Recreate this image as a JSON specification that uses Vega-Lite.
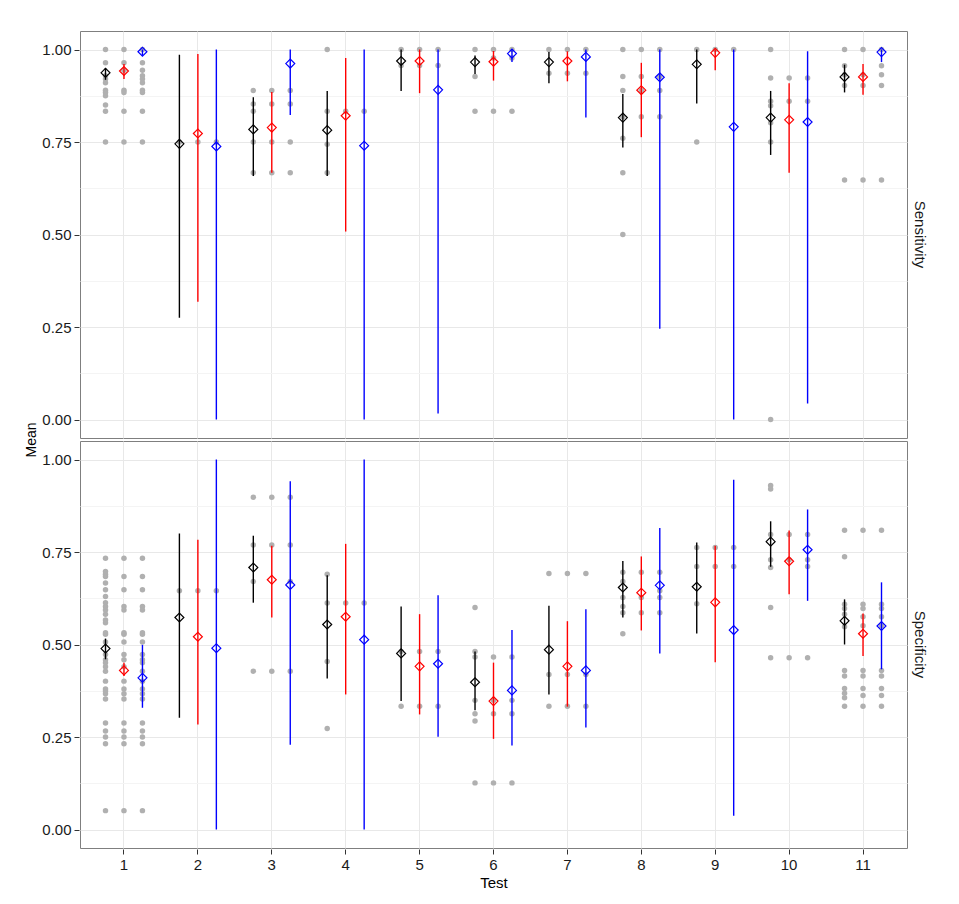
{
"$schema": "https://vega.github.io/schema/vega-lite/v6.json",
"padding": {"left": 24, "top": 30, "right": 5, "bottom": 5},
"background": "white",
"datasets": {
"pts": [
{"p":"Sensitivity","t":1,"s":"s1","v":1},{"p":"Sensitivity","t":1,"s":"s1","v":0.964},{"p":"Sensitivity","t":1,"s":"s1","v":0.929},{"p":"Sensitivity","t":1,"s":"s1","v":0.92},{"p":"Sensitivity","t":1,"s":"s1","v":0.91},{"p":"Sensitivity","t":1,"s":"s1","v":0.89},{"p":"Sensitivity","t":1,"s":"s1","v":0.884},{"p":"Sensitivity","t":1,"s":"s1","v":0.875},{"p":"Sensitivity","t":1,"s":"s1","v":0.85},{"p":"Sensitivity","t":1,"s":"s1","v":0.833},{"p":"Sensitivity","t":1,"s":"s1","v":0.75},
{"p":"Sensitivity","t":1,"s":"s2","v":1},{"p":"Sensitivity","t":1,"s":"s2","v":0.964},{"p":"Sensitivity","t":1,"s":"s2","v":0.944},{"p":"Sensitivity","t":1,"s":"s2","v":0.89},{"p":"Sensitivity","t":1,"s":"s2","v":0.884},{"p":"Sensitivity","t":1,"s":"s2","v":0.833},{"p":"Sensitivity","t":1,"s":"s2","v":0.75},
{"p":"Sensitivity","t":1,"s":"s3","v":1},{"p":"Sensitivity","t":1,"s":"s3","v":0.964},{"p":"Sensitivity","t":1,"s":"s3","v":0.944},{"p":"Sensitivity","t":1,"s":"s3","v":0.929},{"p":"Sensitivity","t":1,"s":"s3","v":0.92},{"p":"Sensitivity","t":1,"s":"s3","v":0.91},{"p":"Sensitivity","t":1,"s":"s3","v":0.89},{"p":"Sensitivity","t":1,"s":"s3","v":0.884},{"p":"Sensitivity","t":1,"s":"s3","v":0.833},{"p":"Sensitivity","t":1,"s":"s3","v":0.75},
{"p":"Sensitivity","t":2,"s":"s1","v":0.75},{"p":"Sensitivity","t":2,"s":"s2","v":0.75},{"p":"Sensitivity","t":2,"s":"s3","v":0.75},
{"p":"Sensitivity","t":3,"s":"s1","v":0.889},{"p":"Sensitivity","t":3,"s":"s1","v":0.853},{"p":"Sensitivity","t":3,"s":"s1","v":0.833},{"p":"Sensitivity","t":3,"s":"s1","v":0.75},{"p":"Sensitivity","t":3,"s":"s1","v":0.667},
{"p":"Sensitivity","t":3,"s":"s2","v":0.889},{"p":"Sensitivity","t":3,"s":"s2","v":0.853},{"p":"Sensitivity","t":3,"s":"s2","v":0.75},{"p":"Sensitivity","t":3,"s":"s2","v":0.667},
{"p":"Sensitivity","t":3,"s":"s3","v":0.889},{"p":"Sensitivity","t":3,"s":"s3","v":0.853},{"p":"Sensitivity","t":3,"s":"s3","v":0.75},{"p":"Sensitivity","t":3,"s":"s3","v":0.667},
{"p":"Sensitivity","t":4,"s":"s1","v":1},{"p":"Sensitivity","t":4,"s":"s1","v":0.833},{"p":"Sensitivity","t":4,"s":"s1","v":0.744},{"p":"Sensitivity","t":4,"s":"s1","v":0.667},
{"p":"Sensitivity","t":4,"s":"s2","v":0.833},{"p":"Sensitivity","t":4,"s":"s3","v":0.833},
{"p":"Sensitivity","t":5,"s":"s1","v":1},{"p":"Sensitivity","t":5,"s":"s1","v":0.957},{"p":"Sensitivity","t":5,"s":"s2","v":1},{"p":"Sensitivity","t":5,"s":"s2","v":0.957},{"p":"Sensitivity","t":5,"s":"s3","v":1},{"p":"Sensitivity","t":5,"s":"s3","v":0.957},
{"p":"Sensitivity","t":6,"s":"s1","v":1},{"p":"Sensitivity","t":6,"s":"s1","v":0.927},{"p":"Sensitivity","t":6,"s":"s1","v":0.833},
{"p":"Sensitivity","t":6,"s":"s2","v":1},{"p":"Sensitivity","t":6,"s":"s2","v":0.977},{"p":"Sensitivity","t":6,"s":"s2","v":0.833},
{"p":"Sensitivity","t":6,"s":"s3","v":1},{"p":"Sensitivity","t":6,"s":"s3","v":0.977},{"p":"Sensitivity","t":6,"s":"s3","v":0.833},
{"p":"Sensitivity","t":7,"s":"s1","v":1},{"p":"Sensitivity","t":7,"s":"s1","v":0.936},{"p":"Sensitivity","t":7,"s":"s2","v":1},{"p":"Sensitivity","t":7,"s":"s2","v":0.936},{"p":"Sensitivity","t":7,"s":"s3","v":1},{"p":"Sensitivity","t":7,"s":"s3","v":0.936},
{"p":"Sensitivity","t":8,"s":"s1","v":1},{"p":"Sensitivity","t":8,"s":"s1","v":0.927},{"p":"Sensitivity","t":8,"s":"s1","v":0.889},{"p":"Sensitivity","t":8,"s":"s1","v":0.818},{"p":"Sensitivity","t":8,"s":"s1","v":0.76},{"p":"Sensitivity","t":8,"s":"s1","v":0.667},{"p":"Sensitivity","t":8,"s":"s1","v":0.5},
{"p":"Sensitivity","t":8,"s":"s2","v":1},{"p":"Sensitivity","t":8,"s":"s2","v":0.927},{"p":"Sensitivity","t":8,"s":"s2","v":0.889},{"p":"Sensitivity","t":8,"s":"s2","v":0.818},
{"p":"Sensitivity","t":8,"s":"s3","v":1},{"p":"Sensitivity","t":8,"s":"s3","v":0.927},{"p":"Sensitivity","t":8,"s":"s3","v":0.889},{"p":"Sensitivity","t":8,"s":"s3","v":0.818},
{"p":"Sensitivity","t":9,"s":"s1","v":1},{"p":"Sensitivity","t":9,"s":"s1","v":0.75},{"p":"Sensitivity","t":9,"s":"s2","v":1},{"p":"Sensitivity","t":9,"s":"s3","v":1},
{"p":"Sensitivity","t":10,"s":"s1","v":1},{"p":"Sensitivity","t":10,"s":"s1","v":0.923},{"p":"Sensitivity","t":10,"s":"s1","v":0.86},{"p":"Sensitivity","t":10,"s":"s1","v":0.848},{"p":"Sensitivity","t":10,"s":"s1","v":0.802},{"p":"Sensitivity","t":10,"s":"s1","v":0.75},{"p":"Sensitivity","t":10,"s":"s1","v":0},
{"p":"Sensitivity","t":10,"s":"s2","v":0.923},{"p":"Sensitivity","t":10,"s":"s2","v":0.86},{"p":"Sensitivity","t":10,"s":"s3","v":0.923},{"p":"Sensitivity","t":10,"s":"s3","v":0.86},
{"p":"Sensitivity","t":11,"s":"s1","v":1},{"p":"Sensitivity","t":11,"s":"s1","v":0.956},{"p":"Sensitivity","t":11,"s":"s1","v":0.932},{"p":"Sensitivity","t":11,"s":"s1","v":0.903},{"p":"Sensitivity","t":11,"s":"s1","v":0.647},
{"p":"Sensitivity","t":11,"s":"s2","v":1},{"p":"Sensitivity","t":11,"s":"s2","v":0.932},{"p":"Sensitivity","t":11,"s":"s2","v":0.903},{"p":"Sensitivity","t":11,"s":"s2","v":0.647},
{"p":"Sensitivity","t":11,"s":"s3","v":1},{"p":"Sensitivity","t":11,"s":"s3","v":0.956},{"p":"Sensitivity","t":11,"s":"s3","v":0.932},{"p":"Sensitivity","t":11,"s":"s3","v":0.903},{"p":"Sensitivity","t":11,"s":"s3","v":0.647},

{"p":"Specificity","t":1,"s":"s1","v":0.733},{"p":"Specificity","t":1,"s":"s1","v":0.697},{"p":"Specificity","t":1,"s":"s1","v":0.69},{"p":"Specificity","t":1,"s":"s1","v":0.684},{"p":"Specificity","t":1,"s":"s1","v":0.666},{"p":"Specificity","t":1,"s":"s1","v":0.648},{"p":"Specificity","t":1,"s":"s1","v":0.63},{"p":"Specificity","t":1,"s":"s1","v":0.613},{"p":"Specificity","t":1,"s":"s1","v":0.603},{"p":"Specificity","t":1,"s":"s1","v":0.593},{"p":"Specificity","t":1,"s":"s1","v":0.582},{"p":"Specificity","t":1,"s":"s1","v":0.566},{"p":"Specificity","t":1,"s":"s1","v":0.559},{"p":"Specificity","t":1,"s":"s1","v":0.532},{"p":"Specificity","t":1,"s":"s1","v":0.528},{"p":"Specificity","t":1,"s":"s1","v":0.507},{"p":"Specificity","t":1,"s":"s1","v":0.473},{"p":"Specificity","t":1,"s":"s1","v":0.459},{"p":"Specificity","t":1,"s":"s1","v":0.451},{"p":"Specificity","t":1,"s":"s1","v":0.44},{"p":"Specificity","t":1,"s":"s1","v":0.428},{"p":"Specificity","t":1,"s":"s1","v":0.401},{"p":"Specificity","t":1,"s":"s1","v":0.38},{"p":"Specificity","t":1,"s":"s1","v":0.374},{"p":"Specificity","t":1,"s":"s1","v":0.367},{"p":"Specificity","t":1,"s":"s1","v":0.353},{"p":"Specificity","t":1,"s":"s1","v":0.288},{"p":"Specificity","t":1,"s":"s1","v":0.266},{"p":"Specificity","t":1,"s":"s1","v":0.25},{"p":"Specificity","t":1,"s":"s1","v":0.232},{"p":"Specificity","t":1,"s":"s1","v":0.051},
{"p":"Specificity","t":1,"s":"s2","v":0.733},{"p":"Specificity","t":1,"s":"s2","v":0.684},{"p":"Specificity","t":1,"s":"s2","v":0.648},{"p":"Specificity","t":1,"s":"s2","v":0.603},{"p":"Specificity","t":1,"s":"s2","v":0.593},{"p":"Specificity","t":1,"s":"s2","v":0.532},{"p":"Specificity","t":1,"s":"s2","v":0.528},{"p":"Specificity","t":1,"s":"s2","v":0.507},{"p":"Specificity","t":1,"s":"s2","v":0.473},{"p":"Specificity","t":1,"s":"s2","v":0.459},{"p":"Specificity","t":1,"s":"s2","v":0.44},{"p":"Specificity","t":1,"s":"s2","v":0.401},{"p":"Specificity","t":1,"s":"s2","v":0.38},{"p":"Specificity","t":1,"s":"s2","v":0.367},{"p":"Specificity","t":1,"s":"s2","v":0.353},{"p":"Specificity","t":1,"s":"s2","v":0.288},{"p":"Specificity","t":1,"s":"s2","v":0.266},{"p":"Specificity","t":1,"s":"s2","v":0.25},{"p":"Specificity","t":1,"s":"s2","v":0.232},{"p":"Specificity","t":1,"s":"s2","v":0.051},
{"p":"Specificity","t":1,"s":"s3","v":0.733},{"p":"Specificity","t":1,"s":"s3","v":0.684},{"p":"Specificity","t":1,"s":"s3","v":0.648},{"p":"Specificity","t":1,"s":"s3","v":0.603},{"p":"Specificity","t":1,"s":"s3","v":0.593},{"p":"Specificity","t":1,"s":"s3","v":0.532},{"p":"Specificity","t":1,"s":"s3","v":0.528},{"p":"Specificity","t":1,"s":"s3","v":0.507},{"p":"Specificity","t":1,"s":"s3","v":0.473},{"p":"Specificity","t":1,"s":"s3","v":0.459},{"p":"Specificity","t":1,"s":"s3","v":0.451},{"p":"Specificity","t":1,"s":"s3","v":0.428},{"p":"Specificity","t":1,"s":"s3","v":0.401},{"p":"Specificity","t":1,"s":"s3","v":0.38},{"p":"Specificity","t":1,"s":"s3","v":0.367},{"p":"Specificity","t":1,"s":"s3","v":0.353},{"p":"Specificity","t":1,"s":"s3","v":0.288},{"p":"Specificity","t":1,"s":"s3","v":0.266},{"p":"Specificity","t":1,"s":"s3","v":0.25},{"p":"Specificity","t":1,"s":"s3","v":0.232},{"p":"Specificity","t":1,"s":"s3","v":0.051},
{"p":"Specificity","t":2,"s":"s1","v":0.645},{"p":"Specificity","t":2,"s":"s2","v":0.645},{"p":"Specificity","t":2,"s":"s3","v":0.645},
{"p":"Specificity","t":3,"s":"s1","v":0.898},{"p":"Specificity","t":3,"s":"s1","v":0.769},{"p":"Specificity","t":3,"s":"s1","v":0.67},{"p":"Specificity","t":3,"s":"s1","v":0.428},
{"p":"Specificity","t":3,"s":"s2","v":0.898},{"p":"Specificity","t":3,"s":"s2","v":0.769},{"p":"Specificity","t":3,"s":"s2","v":0.428},
{"p":"Specificity","t":3,"s":"s3","v":0.898},{"p":"Specificity","t":3,"s":"s3","v":0.769},{"p":"Specificity","t":3,"s":"s3","v":0.67},{"p":"Specificity","t":3,"s":"s3","v":0.428},
{"p":"Specificity","t":4,"s":"s1","v":0.69},{"p":"Specificity","t":4,"s":"s1","v":0.612},{"p":"Specificity","t":4,"s":"s1","v":0.454},{"p":"Specificity","t":4,"s":"s1","v":0.273},
{"p":"Specificity","t":4,"s":"s2","v":0.612},{"p":"Specificity","t":4,"s":"s3","v":0.612},
{"p":"Specificity","t":5,"s":"s1","v":0.481},{"p":"Specificity","t":5,"s":"s1","v":0.333},{"p":"Specificity","t":5,"s":"s2","v":0.481},{"p":"Specificity","t":5,"s":"s2","v":0.333},{"p":"Specificity","t":5,"s":"s3","v":0.481},{"p":"Specificity","t":5,"s":"s3","v":0.333},
{"p":"Specificity","t":6,"s":"s1","v":0.6},{"p":"Specificity","t":6,"s":"s1","v":0.481},{"p":"Specificity","t":6,"s":"s1","v":0.466},{"p":"Specificity","t":6,"s":"s1","v":0.349},{"p":"Specificity","t":6,"s":"s1","v":0.313},{"p":"Specificity","t":6,"s":"s1","v":0.293},{"p":"Specificity","t":6,"s":"s1","v":0.126},
{"p":"Specificity","t":6,"s":"s2","v":0.466},{"p":"Specificity","t":6,"s":"s2","v":0.349},{"p":"Specificity","t":6,"s":"s2","v":0.313},{"p":"Specificity","t":6,"s":"s2","v":0.126},
{"p":"Specificity","t":6,"s":"s3","v":0.466},{"p":"Specificity","t":6,"s":"s3","v":0.349},{"p":"Specificity","t":6,"s":"s3","v":0.313},{"p":"Specificity","t":6,"s":"s3","v":0.126},
{"p":"Specificity","t":7,"s":"s1","v":0.692},{"p":"Specificity","t":7,"s":"s1","v":0.419},{"p":"Specificity","t":7,"s":"s1","v":0.333},
{"p":"Specificity","t":7,"s":"s2","v":0.692},{"p":"Specificity","t":7,"s":"s2","v":0.419},{"p":"Specificity","t":7,"s":"s2","v":0.333},
{"p":"Specificity","t":7,"s":"s3","v":0.692},{"p":"Specificity","t":7,"s":"s3","v":0.419},{"p":"Specificity","t":7,"s":"s3","v":0.333},
{"p":"Specificity","t":8,"s":"s1","v":0.695},{"p":"Specificity","t":8,"s":"s1","v":0.67},{"p":"Specificity","t":8,"s":"s1","v":0.627},{"p":"Specificity","t":8,"s":"s1","v":0.603},{"p":"Specificity","t":8,"s":"s1","v":0.586},{"p":"Specificity","t":8,"s":"s1","v":0.529},
{"p":"Specificity","t":8,"s":"s2","v":0.695},{"p":"Specificity","t":8,"s":"s2","v":0.627},{"p":"Specificity","t":8,"s":"s2","v":0.586},
{"p":"Specificity","t":8,"s":"s3","v":0.695},{"p":"Specificity","t":8,"s":"s3","v":0.645},{"p":"Specificity","t":8,"s":"s3","v":0.627},{"p":"Specificity","t":8,"s":"s3","v":0.586},
{"p":"Specificity","t":9,"s":"s1","v":0.762},{"p":"Specificity","t":9,"s":"s1","v":0.711},{"p":"Specificity","t":9,"s":"s1","v":0.61},
{"p":"Specificity","t":9,"s":"s2","v":0.762},{"p":"Specificity","t":9,"s":"s2","v":0.711},{"p":"Specificity","t":9,"s":"s3","v":0.762},{"p":"Specificity","t":9,"s":"s3","v":0.711},
{"p":"Specificity","t":10,"s":"s1","v":0.93},{"p":"Specificity","t":10,"s":"s1","v":0.92},{"p":"Specificity","t":10,"s":"s1","v":0.797},{"p":"Specificity","t":10,"s":"s1","v":0.729},{"p":"Specificity","t":10,"s":"s1","v":0.708},{"p":"Specificity","t":10,"s":"s1","v":0.6},{"p":"Specificity","t":10,"s":"s1","v":0.464},
{"p":"Specificity","t":10,"s":"s2","v":0.797},{"p":"Specificity","t":10,"s":"s2","v":0.729},{"p":"Specificity","t":10,"s":"s2","v":0.464},
{"p":"Specificity","t":10,"s":"s3","v":0.797},{"p":"Specificity","t":10,"s":"s3","v":0.729},{"p":"Specificity","t":10,"s":"s3","v":0.711},{"p":"Specificity","t":10,"s":"s3","v":0.464},
{"p":"Specificity","t":11,"s":"s1","v":0.809},{"p":"Specificity","t":11,"s":"s1","v":0.737},{"p":"Specificity","t":11,"s":"s1","v":0.609},{"p":"Specificity","t":11,"s":"s1","v":0.597},{"p":"Specificity","t":11,"s":"s1","v":0.582},{"p":"Specificity","t":11,"s":"s1","v":0.548},{"p":"Specificity","t":11,"s":"s1","v":0.43},{"p":"Specificity","t":11,"s":"s1","v":0.415},{"p":"Specificity","t":11,"s":"s1","v":0.381},{"p":"Specificity","t":11,"s":"s1","v":0.368},{"p":"Specificity","t":11,"s":"s1","v":0.356},{"p":"Specificity","t":11,"s":"s1","v":0.333},
{"p":"Specificity","t":11,"s":"s2","v":0.809},{"p":"Specificity","t":11,"s":"s2","v":0.609},{"p":"Specificity","t":11,"s":"s2","v":0.597},{"p":"Specificity","t":11,"s":"s2","v":0.575},{"p":"Specificity","t":11,"s":"s2","v":0.551},{"p":"Specificity","t":11,"s":"s2","v":0.43},{"p":"Specificity","t":11,"s":"s2","v":0.415},{"p":"Specificity","t":11,"s":"s2","v":0.381},{"p":"Specificity","t":11,"s":"s2","v":0.362},{"p":"Specificity","t":11,"s":"s2","v":0.333},
{"p":"Specificity","t":11,"s":"s3","v":0.809},{"p":"Specificity","t":11,"s":"s3","v":0.609},{"p":"Specificity","t":11,"s":"s3","v":0.597},{"p":"Specificity","t":11,"s":"s3","v":0.575},{"p":"Specificity","t":11,"s":"s3","v":0.551},{"p":"Specificity","t":11,"s":"s3","v":0.43},{"p":"Specificity","t":11,"s":"s3","v":0.415},{"p":"Specificity","t":11,"s":"s3","v":0.381},{"p":"Specificity","t":11,"s":"s3","v":0.362},{"p":"Specificity","t":11,"s":"s3","v":0.333},

{"p":"Sensitivity","t":1,"s":"s1","m":0.937,"lo":0.918,"hi":0.95},{"p":"Sensitivity","t":1,"s":"s2","m":0.942,"lo":0.92,"hi":0.961},{"p":"Sensitivity","t":1,"s":"s3","m":0.994,"lo":0.984,"hi":1},
{"p":"Sensitivity","t":2,"s":"s1","m":0.745,"lo":0.275,"hi":0.986},{"p":"Sensitivity","t":2,"s":"s2","m":0.773,"lo":0.318,"hi":0.988},{"p":"Sensitivity","t":2,"s":"s3","m":0.738,"lo":0,"hi":1},
{"p":"Sensitivity","t":3,"s":"s1","m":0.784,"lo":0.658,"hi":0.871},{"p":"Sensitivity","t":3,"s":"s2","m":0.789,"lo":0.667,"hi":0.885},{"p":"Sensitivity","t":3,"s":"s3","m":0.962,"lo":0.823,"hi":1},
{"p":"Sensitivity","t":4,"s":"s1","m":0.782,"lo":0.658,"hi":0.888},{"p":"Sensitivity","t":4,"s":"s2","m":0.821,"lo":0.508,"hi":0.977},{"p":"Sensitivity","t":4,"s":"s3","m":0.74,"lo":0,"hi":1},
{"p":"Sensitivity","t":5,"s":"s1","m":0.969,"lo":0.888,"hi":1},{"p":"Sensitivity","t":5,"s":"s2","m":0.969,"lo":0.882,"hi":1},{"p":"Sensitivity","t":5,"s":"s3","m":0.891,"lo":0.016,"hi":1},
{"p":"Sensitivity","t":6,"s":"s1","m":0.966,"lo":0.934,"hi":0.984},{"p":"Sensitivity","t":6,"s":"s2","m":0.967,"lo":0.916,"hi":0.996},{"p":"Sensitivity","t":6,"s":"s3","m":0.989,"lo":0.966,"hi":1},
{"p":"Sensitivity","t":7,"s":"s1","m":0.966,"lo":0.909,"hi":0.993},{"p":"Sensitivity","t":7,"s":"s2","m":0.969,"lo":0.914,"hi":0.995},{"p":"Sensitivity","t":7,"s":"s3","m":0.98,"lo":0.816,"hi":1},
{"p":"Sensitivity","t":8,"s":"s1","m":0.816,"lo":0.735,"hi":0.88},{"p":"Sensitivity","t":8,"s":"s2","m":0.89,"lo":0.763,"hi":0.964},{"p":"Sensitivity","t":8,"s":"s3","m":0.925,"lo":0.245,"hi":1},
{"p":"Sensitivity","t":9,"s":"s1","m":0.96,"lo":0.854,"hi":1},{"p":"Sensitivity","t":9,"s":"s2","m":0.991,"lo":0.944,"hi":1},{"p":"Sensitivity","t":9,"s":"s3","m":0.791,"lo":0,"hi":1},
{"p":"Sensitivity","t":10,"s":"s1","m":0.816,"lo":0.715,"hi":0.888},{"p":"Sensitivity","t":10,"s":"s2","m":0.81,"lo":0.667,"hi":0.909},{"p":"Sensitivity","t":10,"s":"s3","m":0.804,"lo":0.043,"hi":0.995},
{"p":"Sensitivity","t":11,"s":"s1","m":0.926,"lo":0.884,"hi":0.959},{"p":"Sensitivity","t":11,"s":"s2","m":0.926,"lo":0.878,"hi":0.961},{"p":"Sensitivity","t":11,"s":"s3","m":0.993,"lo":0.966,"hi":1},
{"p":"Specificity","t":1,"s":"s1","m":0.489,"lo":0.46,"hi":0.516},{"p":"Specificity","t":1,"s":"s2","m":0.43,"lo":0.415,"hi":0.451},{"p":"Specificity","t":1,"s":"s3","m":0.41,"lo":0.329,"hi":0.499},
{"p":"Specificity","t":2,"s":"s1","m":0.573,"lo":0.302,"hi":0.8},{"p":"Specificity","t":2,"s":"s2","m":0.521,"lo":0.284,"hi":0.783},{"p":"Specificity","t":2,"s":"s3","m":0.49,"lo":0,"hi":1},
{"p":"Specificity","t":3,"s":"s1","m":0.708,"lo":0.613,"hi":0.794},{"p":"Specificity","t":3,"s":"s2","m":0.675,"lo":0.573,"hi":0.767},{"p":"Specificity","t":3,"s":"s3","m":0.661,"lo":0.229,"hi":0.941},
{"p":"Specificity","t":4,"s":"s1","m":0.554,"lo":0.408,"hi":0.687},{"p":"Specificity","t":4,"s":"s2","m":0.575,"lo":0.365,"hi":0.772},{"p":"Specificity","t":4,"s":"s3","m":0.513,"lo":0,"hi":1},
{"p":"Specificity","t":5,"s":"s1","m":0.476,"lo":0.347,"hi":0.603},{"p":"Specificity","t":5,"s":"s2","m":0.441,"lo":0.311,"hi":0.582},{"p":"Specificity","t":5,"s":"s3","m":0.448,"lo":0.251,"hi":0.633},
{"p":"Specificity","t":6,"s":"s1","m":0.398,"lo":0.322,"hi":0.481},{"p":"Specificity","t":6,"s":"s2","m":0.347,"lo":0.245,"hi":0.451},{"p":"Specificity","t":6,"s":"s3","m":0.376,"lo":0.227,"hi":0.539},
{"p":"Specificity","t":7,"s":"s1","m":0.486,"lo":0.365,"hi":0.605},{"p":"Specificity","t":7,"s":"s2","m":0.441,"lo":0.332,"hi":0.563},{"p":"Specificity","t":7,"s":"s3","m":0.43,"lo":0.276,"hi":0.595},
{"p":"Specificity","t":8,"s":"s1","m":0.654,"lo":0.573,"hi":0.726},{"p":"Specificity","t":8,"s":"s2","m":0.64,"lo":0.538,"hi":0.738},{"p":"Specificity","t":8,"s":"s3","m":0.66,"lo":0.476,"hi":0.815},
{"p":"Specificity","t":9,"s":"s1","m":0.656,"lo":0.53,"hi":0.776},{"p":"Specificity","t":9,"s":"s2","m":0.614,"lo":0.452,"hi":0.767},{"p":"Specificity","t":9,"s":"s3","m":0.539,"lo":0.037,"hi":0.945},
{"p":"Specificity","t":10,"s":"s1","m":0.778,"lo":0.71,"hi":0.833},{"p":"Specificity","t":10,"s":"s2","m":0.725,"lo":0.636,"hi":0.808},{"p":"Specificity","t":10,"s":"s3","m":0.756,"lo":0.618,"hi":0.865},
{"p":"Specificity","t":11,"s":"s1","m":0.564,"lo":0.5,"hi":0.622},{"p":"Specificity","t":11,"s":"s2","m":0.529,"lo":0.469,"hi":0.584},{"p":"Specificity","t":11,"s":"s3","m":0.55,"lo":0.433,"hi":0.668}
]
},
"data": {"name": "pts"},
"facet": {"row": {"field": "p", "type": "nominal", "title": "Mean",
  "header": {"labelOrient": "right", "labelAngle": 90, "labelFontSize": 15, "labelFont": "Liberation Sans", "labelColor": "#1a1a1a", "labelPadding": 4,
    "titleOrient": "left", "titleFontSize": 14, "titleFontWeight": "normal", "titleFont": "Liberation Sans", "titleColor": "#000000", "titlePadding": -8}}},
"spacing": {"row": 1},
"spec": {
  "width": 827,
  "height": 407,
  "encoding": {
    "x": {"field": "t", "type": "ordinal", "title": "Test",
      "scale": {"paddingInner": 0, "paddingOuter": 0.095},
      "axis": {"labelAngle": 0, "bandPosition": 0.5, "grid": true, "gridColor": "#e8e8e8", "titlePadding": 3}},
    "xOffset": {"field": "s", "type": "nominal", "scale": {"domain": ["s1", "s2", "s3"], "paddingInner": 0, "paddingOuter": 0.5}}
  },
  "layer": [
    {"transform": [{"filter": "isValid(datum.v)"}],
     "mark": {"type": "circle", "size": 30, "color": "#b0b0b0", "opacity": 1},
     "encoding": {"y": {"field": "v", "type": "quantitative", "title": null,
        "scale": {"domain": [-0.05, 1.05], "nice": false, "zero": false},
        "axis": {"values": [0, 0.125, 0.25, 0.375, 0.5, 0.625, 0.75, 0.875, 1],
          "labelExpr": "(datum.value * 4) % 1 == 0 ? format(datum.value, '.2f') : ''",
          "gridColor": {"condition": {"test": "(datum.value * 4) % 1 == 0", "value": "#e8e8e8"}, "value": "#f4f4f4"},
          "tickOpacity": {"condition": {"test": "(datum.value * 4) % 1 == 0", "value": 1}, "value": 0}}}}},
    {"transform": [{"filter": "isValid(datum.m)"}],
     "mark": {"type": "rule", "strokeWidth": 1.4},
     "encoding": {"y": {"field": "lo", "type": "quantitative", "title": null}, "y2": {"field": "hi"},
       "color": {"field": "s", "type": "nominal", "scale": {"domain": ["s1", "s2", "s3"], "range": ["#000000", "#ff0000", "#0000ff"]}, "legend": null}}},
    {"transform": [{"filter": "isValid(datum.m)"}],
     "mark": {"type": "point", "shape": "diamond", "size": 80, "filled": false, "strokeWidth": 1.2, "opacity": 1},
     "encoding": {"y": {"field": "m", "type": "quantitative", "title": null},
       "color": {"field": "s", "type": "nominal", "scale": {"domain": ["s1", "s2", "s3"], "range": ["#000000", "#ff0000", "#0000ff"]}, "legend": null}}}
  ]
},
"config": {
  "font": "Liberation Sans",
  "view": {"stroke": "#7f7f7f", "strokeWidth": 1},
  "axis": {"domain": false, "tickColor": "#333333", "tickSize": 5, "labelFontSize": 15, "labelColor": "#1a1a1a", "labelPadding": 3, "titleFontSize": 15, "titleFontWeight": "normal", "titleColor": "#000000", "gridWidth": 1}
}
}
